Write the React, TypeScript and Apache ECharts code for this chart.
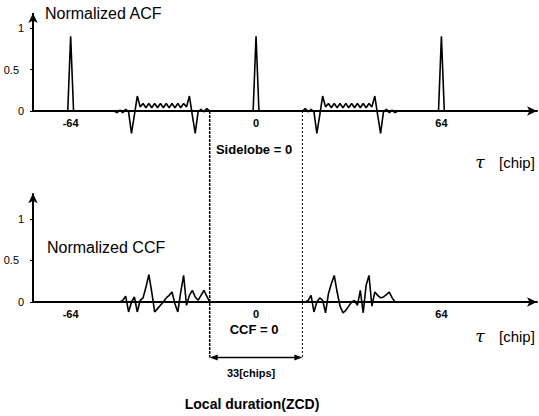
import React, { useEffect, useRef } from "react";
import * as echarts from "echarts";

const X_MIN = -77;
const X_MAX = 97;
const Y_MIN = -0.3;
const xTickLabels = [-64, 0, 64];
const yTickValues = [0, 0.5, 1];
const peakLags = [-64, 0, 64];
const peakHeights = [0.9, 0.9, 0.9];

const acfLeftLags = [-50, -49, -48, -47, -46, -45, -44, -43, -42, -41, -40, -39, -38, -37, -36, -35, -34, -33, -32, -31, -30, -29, -28, -27, -26, -25, -24, -23, -22, -21, -20, -19, -18, -17, -16];
const acfLeftVals = [0, 0, -0.02, 0.01, -0.02, 0.02, -0.01, -0.27, -0.05, 0.18, 0.05, 0.09, 0.04, 0.09, 0.04, 0.09, 0.04, 0.09, 0.04, 0.09, 0.04, 0.09, 0.04, 0.09, 0.04, 0.09, 0.05, 0.18, -0.05, -0.27, -0.01, 0.02, -0.01, 0.03, 0];
const acfRightLags = [16, 17, 18, 19, 20, 21, 22, 23, 24, 25, 26, 27, 28, 29, 30, 31, 32, 33, 34, 35, 36, 37, 38, 39, 40, 41, 42, 43, 44, 45, 46, 47, 48, 49, 50];
const acfRightVals = [0, 0.03, -0.01, 0.02, -0.01, -0.27, -0.05, 0.18, 0.05, 0.09, 0.04, 0.09, 0.04, 0.09, 0.04, 0.09, 0.04, 0.09, 0.04, 0.09, 0.04, 0.09, 0.04, 0.09, 0.05, 0.18, -0.05, -0.27, -0.01, 0.02, -0.02, 0.01, -0.02, 0, 0];

const ccfLeftLags = [-48, -47, -46, -45, -44, -43, -42, -41, -40, -39, -38, -37, -36, -35, -34, -33, -32, -31, -30, -29, -28, -27, -26, -25, -24, -23, -22, -21, -20, -19, -18, -17, -16];
const ccfLeftVals = [0, 0, 0.02, 0.07, -0.12, 0, 0.06, -0.12, 0.02, 0.05, 0.18, 0.33, 0.12, -0.12, -0.08, -0.04, 0, 0.05, 0.08, 0.12, -0.02, -0.12, 0.12, 0.32, -0.04, 0.08, 0.14, 0.06, 0.02, 0.08, 0.14, 0.07, 0];
const ccfRightLags = [16, 17, 18, 19, 20, 21, 22, 23, 24, 25, 26, 27, 28, 29, 30, 31, 32, 33, 34, 35, 36, 37, 38, 39, 40, 41, 42, 43, 44, 45, 46, 47, 48];
const ccfRightVals = [0, 0, 0.02, 0.08, -0.12, 0, 0.05, 0.02, -0.13, 0.1, 0.22, 0.32, 0.12, -0.05, -0.13, -0.1, -0.05, 0, 0.02, -0.04, 0.14, -0.13, 0.2, 0.32, -0.05, 0.12, 0.08, 0.05, 0.06, 0.09, 0.12, 0.05, 0];

const zcdEdges = [-16, 16];
const FONT = "'Liberation Sans', Arial, sans-serif";

function pairs(lags: number[], vals: number[]) {
  return lags.map((l, i) => [l, vals[i]]);
}
function peak(i: number) {
  return [[peakLags[i] - 1, 0], [peakLags[i], peakHeights[i]], [peakLags[i] + 1, 0]];
}

export default function App() {
  const ref = useRef<HTMLDivElement>(null);
  useEffect(() => {
    if (!ref.current) return;
    const chart = echarts.init(ref.current, null, { renderer: "svg" });
    const acfData = [
      [X_MIN, 0],
      ...peak(0),
      ...pairs(acfLeftLags, acfLeftVals),
      ...peak(1),
      ...pairs(acfRightLags, acfRightVals),
      ...peak(2),
      [X_MAX, 0],
    ];
    const ccfData = [
      [X_MIN, 0],
      ...pairs(ccfLeftLags, ccfLeftVals),
      ...pairs(ccfRightLags, ccfRightVals),
      [X_MAX, 0],
    ];
    const PX = 83; // pixels per unit of y
    const xAxisCommon = (gridIndex: number) => ({
      type: "value",
      gridIndex,
      min: X_MIN,
      max: X_MAX,
      offset: Y_MIN * PX,
      axisLine: { show: true, onZero: false, symbol: ["none", "arrow"], symbolSize: [7, 10], lineStyle: { color: "#000", width: 2 } },
      axisTick: { show: false },
      splitLine: { show: false },
      axisLabel: { customValues: xTickLabels, color: "#000", fontSize: 11, fontWeight: "bold", fontFamily: FONT, margin: 6 },
    });
    const yAxisCommon = (gridIndex: number, max: number) => ({
      type: "value",
      gridIndex,
      min: Y_MIN,
      max,
      axisLine: { show: false, onZero: false },
      axisTick: { show: true, customValues: yTickValues, length: 3, lineStyle: { color: "#000", width: 1 } },
      splitLine: { show: false },
      axisLabel: {
        customValues: yTickValues, color: "#000", fontSize: 11, fontFamily: FONT, margin: 9,
        formatter: (v: number) => (v === 0.5 ? "{h|0.5}" : String(v)),
        rich: { h: { fontSize: 11, fontFamily: FONT, color: "#000", padding: [0, 5, 0, 0] } },
      },
    });
    const yArrow = (top: number) => ({
      silent: true,
      symbol: ["none", "arrow"],
      symbolSize: [7, 10],
      label: { show: false },
      lineStyle: { color: "#000", width: 2, type: "solid" },
      data: [[{ coord: [X_MIN, 0] }, { coord: [X_MIN, top] }]],
    });
    chart.setOption({
      animation: false,
      grid: [
        { left: 33, right: 2, top: 11.4, height: 124.5 },
        { left: 33, right: 2, top: 192.4, height: 134.5 },
      ],
      xAxis: [xAxisCommon(0), xAxisCommon(1)],
      yAxis: [yAxisCommon(0, 1.2), yAxisCommon(1, 1.32)],
      series: [
        {
          type: "line", xAxisIndex: 0, yAxisIndex: 0, data: acfData, showSymbol: false, clip: false,
          lineStyle: { color: "#000", width: 1.6 }, markLine: yArrow(1.18),
        },
        {
          type: "line", xAxisIndex: 1, yAxisIndex: 1, data: ccfData, showSymbol: false, clip: false,
          lineStyle: { color: "#000", width: 1.6 }, markLine: yArrow(1.31),
        },
      ],
    });
    const tl = chart.convertToPixel({ gridIndex: 0 }, [zcdEdges[0], 0]) as number[];
    const tr = chart.convertToPixel({ gridIndex: 0 }, [zcdEdges[1], 0]) as number[];
    const bl = chart.convertToPixel({ gridIndex: 1 }, [zcdEdges[0], -0.67]) as number[];
    const c0 = chart.convertToPixel({ gridIndex: 0 }, [0, 0]) as number[];
    const yA = bl[1];
    const xl = tl[0], xr = tr[0];
    const txt = (x: number, y: number, text: string, size: number, weight: string, align = "center", family = FONT, style = "normal") => ({
      type: "text", x, y,
      style: { text, fill: "#000", font: `${style} ${weight} ${size}px ${family}`, align, verticalAlign: "middle" },
    });
    chart.setOption({
      graphic: [
        { type: "line", shape: { x1: xl, y1: tl[1], x2: xl, y2: yA }, style: { stroke: "#000", lineWidth: 1.5, lineDash: [3, 1] } },
        { type: "line", shape: { x1: xr, y1: tr[1], x2: xr, y2: yA }, style: { stroke: "#000", lineWidth: 1, lineDash: [2, 2] } },
        { type: "line", shape: { x1: xl + 4, y1: yA, x2: xr - 4, y2: yA }, style: { stroke: "#000", lineWidth: 1.5 } },
        { type: "polygon", shape: { points: [[xl, yA], [xl + 8, yA - 3], [xl + 8, yA + 3]] }, style: { fill: "#000" } },
        { type: "polygon", shape: { points: [[xr, yA], [xr - 8, yA - 3], [xr - 8, yA + 3]] }, style: { fill: "#000" } },
        txt(45, 13, "Normalized ACF", 16, "normal", "left"),
        txt(47, 247, "Normalized CCF", 16, "normal", "left"),
        txt(c0[0] - 2, 149, "Sidelobe = 0", 13, "bold"),
        txt(c0[0] - 2, 329, "CCF = 0", 13, "bold"),
        txt(c0[0] - 5, 373, "33[chips]", 11, "bold"),
        txt(c0[0] - 4, 404, "Local duration(ZCD)", 14, "bold"),
        txt(480, 162, "τ", 17, "normal", "center", "'DejaVu Serif', serif", "italic"),
        txt(499, 162, "[chip]", 15, "normal", "left"),
        txt(480, 336, "τ", 17, "normal", "center", "'DejaVu Serif', serif", "italic"),
        txt(499, 336, "[chip]", 15, "normal", "left"),
      ],
    });
    return () => chart.dispose();
  }, []);
  return <div ref={ref} style={{ width: 539, height: 416, position: "absolute", left: 0, top: 0 }} />;
}
